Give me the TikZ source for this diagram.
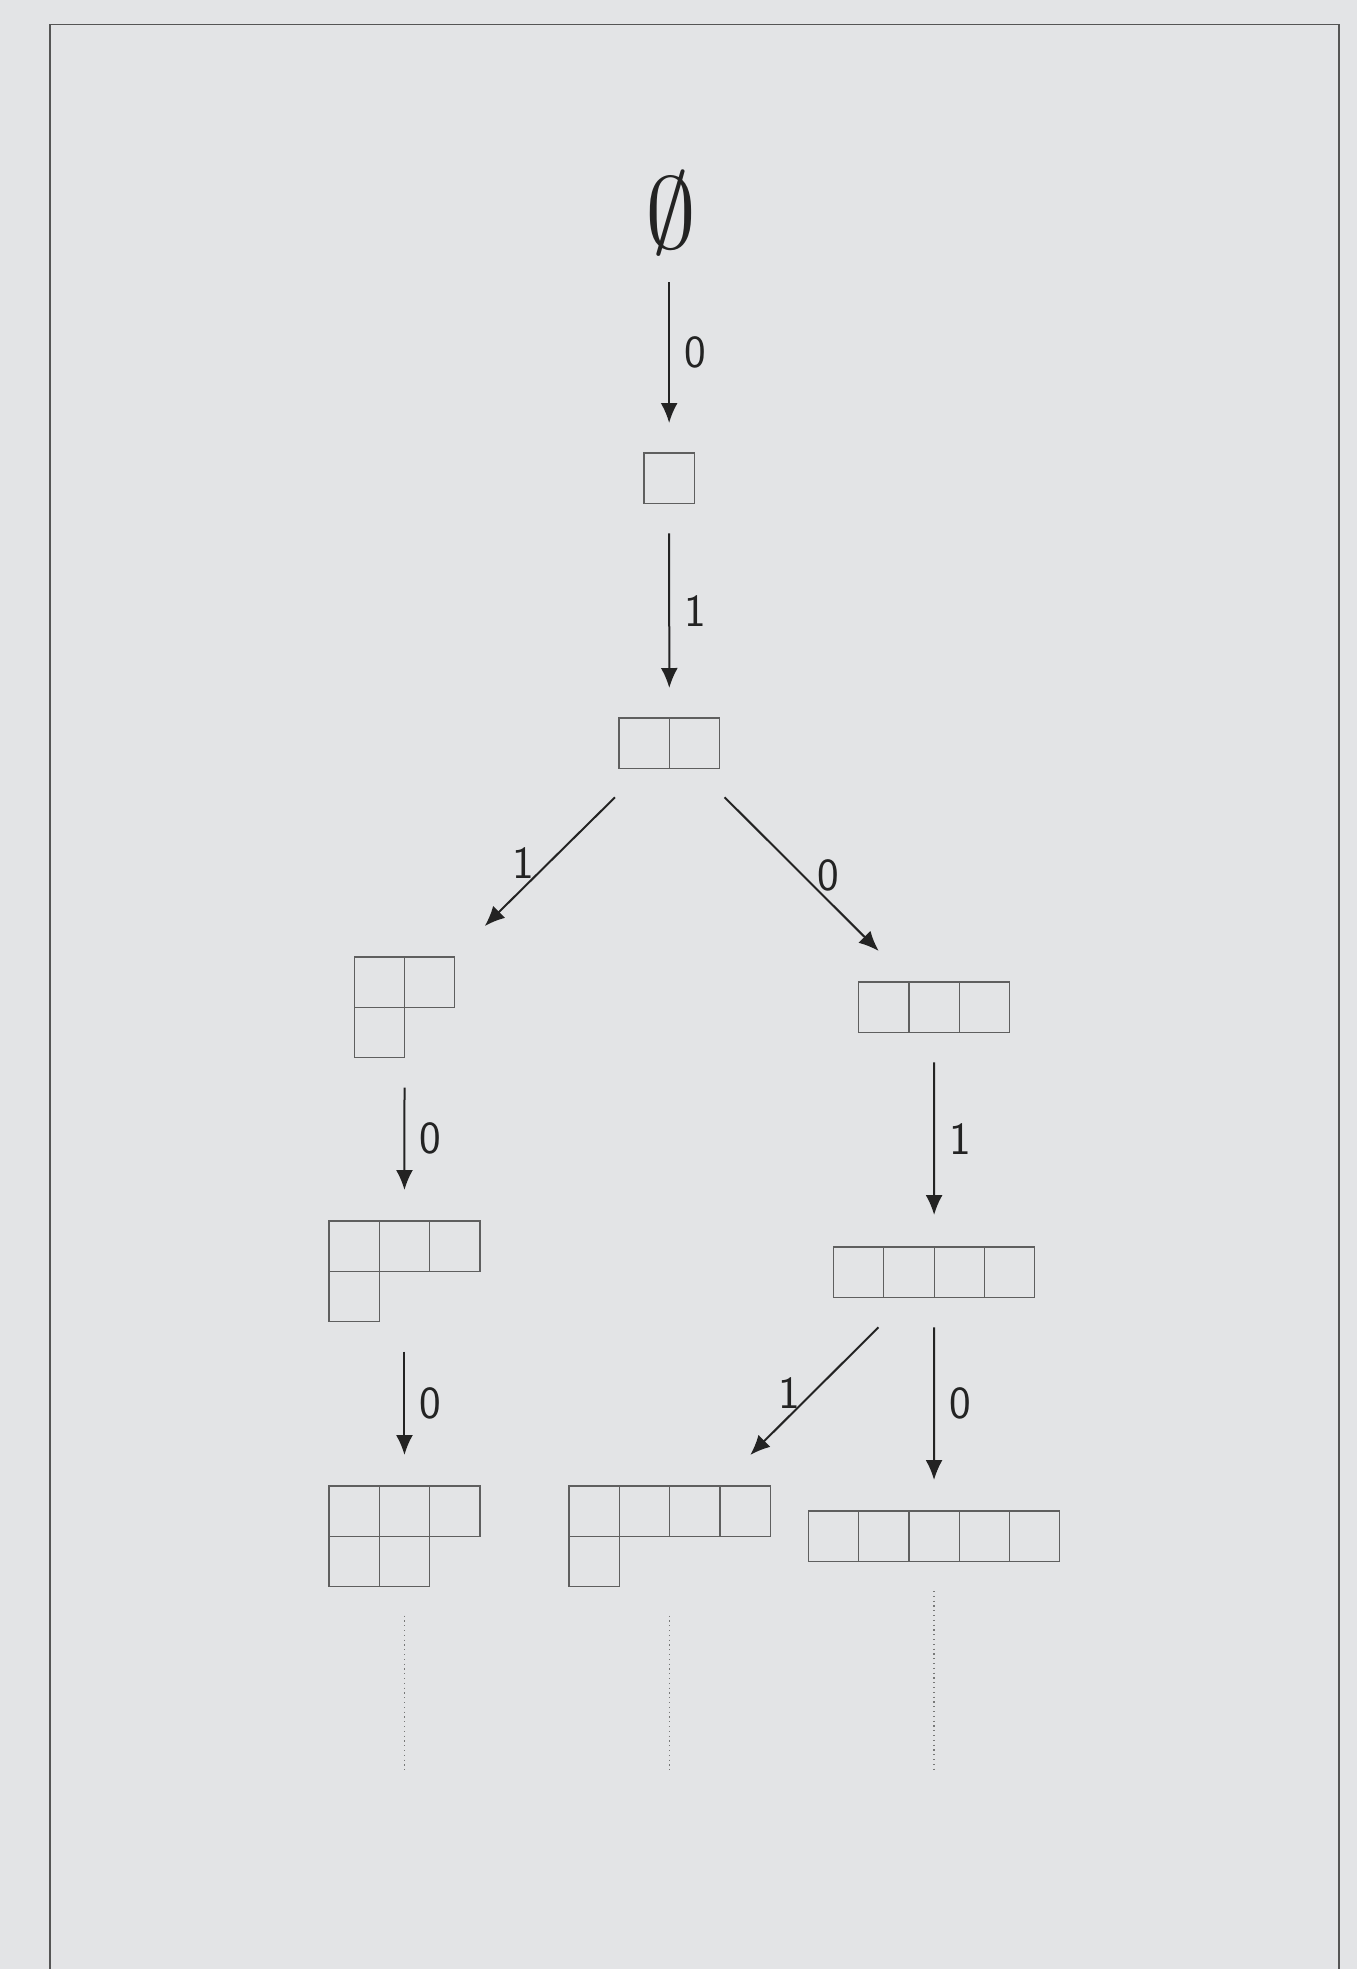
\documentclass[tikz,border=0pt]{standalone}
\usetikzlibrary{arrows.meta,calc}
\definecolor{bg}{RGB}{227,228,230}
\definecolor{framec}{RGB}{85,85,85}
\definecolor{cellc}{RGB}{95,95,95}
\definecolor{arrc}{RGB}{35,35,35}
\definecolor{dotc}{RGB}{120,120,120}
\newcommand{\cellpx}{50.3}
\newcommand{\ydrow}[3]{%
  \foreach \i in {1,...,#3}{%
    \draw[cellbox] ($(#1.north west)+({(\i-1)*\cellpx},{#2*\cellpx})$) rectangle +(\cellpx,\cellpx);}}
\begin{document}
\begin{tikzpicture}[x=0.5pt,y=-0.5pt,
  yd/.style={inner sep=0pt,outer sep=0pt,anchor=north west,draw=none},
  cellbox/.style={draw=cellc,line width=0.6pt},
  arr/.style={draw=arrc,line width=1pt,-{Latex[length=10pt,width=8.5pt]}},
  lab/.style={text=arrc,font=\fontsize{23}{23}\sffamily,inner sep=0pt},
  cont/.style={draw=dotc,line width=0.6pt,dash pattern=on 0.6pt off 1.8pt}]
\useasboundingbox (0,0) rectangle (1357,1969);
\fill[bg] (0,0) rectangle (1357,1969);
\draw[framec,line width=0.75pt] (50,1980) -- (50,24.5) -- (1339,24.5) -- (1339,1980);

% empty set
\node[scale=5.1,inner sep=0pt,text=arrc] (E) at (670.5,213) {$\emptyset$};

% diagrams
\node[yd,minimum width=25.15pt,minimum height=25.15pt] (D1) at (644,453) {};
\node[yd,minimum width=2*25.15pt,minimum height=25.15pt] (D2) at (619,718) {};
\node[yd,minimum width=2*25.15pt,minimum height=2*25.15pt] (D3) at (354.2,957) {};
\node[yd,minimum width=3*25.15pt,minimum height=25.15pt] (D4) at (858.7,982) {};
\node[yd,minimum width=3*25.15pt,minimum height=2*25.15pt] (D5) at (329,1221) {};
\node[yd,minimum width=4*25.15pt,minimum height=25.15pt] (D6) at (833.5,1247) {};
\node[yd,minimum width=3*25.15pt,minimum height=2*25.15pt] (D7) at (329,1486) {};
\node[yd,minimum width=4*25.15pt,minimum height=2*25.15pt] (D8) at (569,1486) {};
\node[yd,minimum width=5*25.15pt,minimum height=25.15pt] (D9) at (808.3,1511) {};

\ydrow{D1}{0}{1}
\ydrow{D2}{0}{2}
\ydrow{D3}{0}{2} \ydrow{D3}{1}{1}
\ydrow{D4}{0}{3}
\ydrow{D5}{0}{3} \ydrow{D5}{1}{1}
\ydrow{D6}{0}{4}
\ydrow{D7}{0}{3} \ydrow{D7}{1}{2}
\ydrow{D8}{0}{4} \ydrow{D8}{1}{1}
\ydrow{D9}{0}{5}

% arrows
\coordinate (E1) at (D1.north |- E.south);
\draw[arr] ($(E1)+(0,26)$) -- node[lab,midway,xshift=13pt] (L1) {0} ($(D1.north)+(0,-30)$);
\draw[arr] ($(D1.south)+(0,30)$) -- node[lab,midway,xshift=13pt] (L2) {1} ($(D2.north)+(0,-30)$);
\draw[arr] ($(D2.south west)+(-4,29)$) -- node[lab,midway,xshift=-13.25pt,yshift=-0.75pt] (L3) {1} ($(D3.north east)+(30,-31)$);
\draw[arr] ($(D2.south east)+(5,29)$) -- node[lab,midway,xshift=13.25pt,yshift=-0.5pt] (L4) {0} ($(D4.north west)+(20,-31)$);
\draw[arr] ($(D3.south)+(0,30)$) -- node[lab,midway,xshift=13pt] (L5) {0} ($(D5.north)+(0,-31)$);
\draw[arr] ($(D4.south)+(0,30)$) -- node[lab,midway,xshift=13pt] (L6) {1} ($(D6.north)+(0,-32)$);
\draw[arr] ($(D5.south)+(0,30)$) -- node[lab,midway,xshift=13pt] (L7) {0} ($(D7.north)+(0,-31)$);
\draw[arr] ($(D6.south west)+(45,30)$) -- node[lab,midway,xshift=-12.75pt,yshift=-0.75pt] (L8) {1} ($(D8.north east)+(-20,-31)$);
\draw[arr] ($(D6.south)+(0,30)$) -- node[lab,midway,xshift=13pt] (L9) {0} ($(D9.north)+(0,-31)$);

% continuation
\coordinate (C7) at ($(D7.south)+(0,185)$);
\coordinate (C8) at ($(D8.south)+(0,185)$);
\coordinate (C9) at ($(D9.south)+(0,210.7)$);
\draw[cont] ($(D7.south)+(0,29)$) -- (C7);
\draw[cont] ($(D8.south)+(0,29)$) -- (C8);
\draw[cont] ($(D9.south)+(0,29.7)$) -- (C9);
\end{tikzpicture}
\end{document}
